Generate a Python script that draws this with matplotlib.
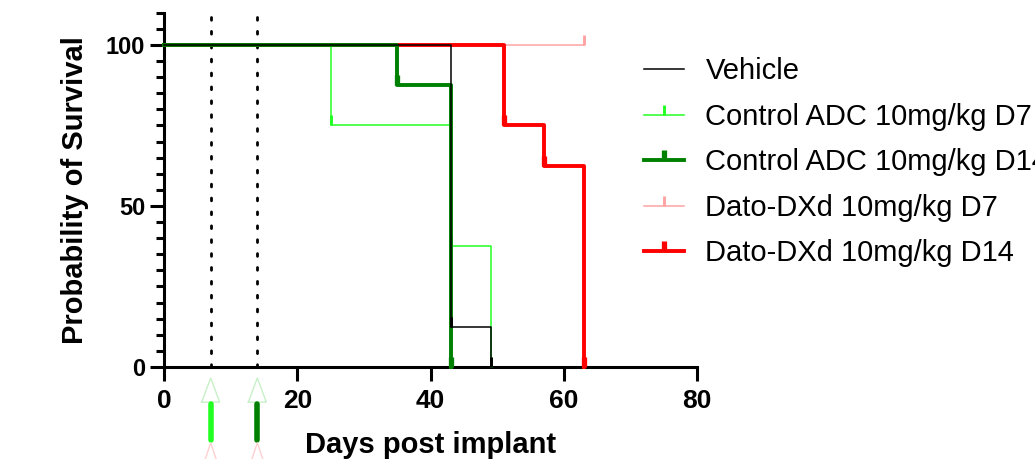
import numpy as np
import matplotlib.pyplot as plt
import matplotlib.transforms as mtransforms

plt.rcParams['font.family'] = ['Liberation Sans', 'DejaVu Sans']

# survival curves (days, % surviving)
vehicle_t = [0, 43, 49]
vehicle_s = [100, 12.5, 0]
ctrl7_t = [0, 25, 43, 49]
ctrl7_s = [100, 75, 37.5, 0]
ctrl14_t = [0, 35, 43]
ctrl14_s = [100, 87.5, 0]
dato7_t = [0, 63]
dato7_s = [100, 100]
dato14_t = [0, 51, 57, 63]
dato14_s = [100, 75, 62.5, 0]

labels = ["Vehicle", "Control ADC 10mg/kg D7", "Control ADC 10mg/kg D14",
          "Dato-DXd 10mg/kg D7", "Dato-DXd 10mg/kg D14"]
colors = ["black", "#22ff22", "#008000", "#ffa3a3", "#ff0000"]
widths = [1.1, 1.1, 2.8, 1.1, 2.8]
zorders = [6, 4, 5, 2, 3]
dose_days = [7, 14]

series = [(vehicle_t, vehicle_s), (ctrl7_t, ctrl7_s), (ctrl14_t, ctrl14_s),
          (dato7_t, dato7_s), (dato14_t, dato14_s)]

# censor tick pointing up from the curve
stub = [(0, 0), (0, 1)]

fig = plt.figure(figsize=(10.35, 4.59), dpi=100)
ax = fig.add_axes([0.1585, 0.2004, 0.515, 0.772])

handles = []
for i, ((t, s), lab, c, lw, z) in enumerate(zip(series, labels, colors, widths, zorders)):
    ax.step(t, s, where='post', color=c, lw=lw, zorder=z, clip_on=False)
    ax.plot(t[1:], s[1:], ls='none', marker=stub, ms=14,
            mew=lw + 1.0, color=c, zorder=z, clip_on=False)
    if i == 0:
        h, = ax.plot([], [], color=c, lw=lw)
    else:
        h, = ax.plot([], [], color=c, lw=lw, marker=stub, ms=14, mew=lw + 1.0)
    handles.append(h)

# dosing days
for d in dose_days:
    ax.axvline(d, color='black', lw=2, ls=(0, (1, 4)), dash_capstyle='round',
               zorder=1)

# dosing arrows below the x axis
trans = mtransforms.blended_transform_factory(ax.transData, ax.transAxes)
arrow_colors = ["#22ff22", "#008000"]
for d, c in zip(dose_days, arrow_colors):
    ax.plot([d - 1.35, d, d + 1.35, d - 1.35], [-0.099, -0.031, -0.099, -0.099],
            transform=trans, color="#c8f0c8", lw=1, clip_on=False)
    ax.plot([d, d], [-0.105, -0.205], transform=trans, color=c, lw=4,
            solid_capstyle='round', clip_on=False)
    ax.plot([d - 1.35, d, d + 1.35], [-0.29, -0.214, -0.29],
            transform=trans, color="#ffd0d0", lw=1, clip_on=False)

ax.set_xlim(0, 80)
ax.set_ylim(0, 110)
ax.set_xticks([0, 20, 40, 60, 80])
ax.set_yticks([0, 50, 100])
ax.set_yticks(np.arange(0, 111, 5), minor=True)

for side in ['top', 'right']:
    ax.spines[side].set_visible(False)
for side in ['left', 'bottom']:
    ax.spines[side].set_linewidth(2.2)

ax.tick_params(axis='both', which='major', length=10, width=2.2,
               direction='out')
ax.tick_params(axis='y', which='major', labelsize=17)
ax.tick_params(axis='x', which='major', labelsize=19, pad=6)
ax.tick_params(axis='y', which='minor', length=6, width=2.2)
for lab in ax.get_xticklabels() + ax.get_yticklabels():
    lab.set_fontweight('bold')

ax.set_xlabel("Days post implant", fontsize=21, fontweight='bold', labelpad=13)
ax.set_ylabel("Probability of Survival", fontsize=21, fontweight='bold',
              labelpad=12)

fig.legend(handles, labels, loc='upper left', bbox_to_anchor=(0.597, 0.932),
           frameon=False, fontsize=21, handlelength=1.35, handletextpad=0.75,
           labelspacing=0.6)

fig.savefig("out.png", dpi=100)
